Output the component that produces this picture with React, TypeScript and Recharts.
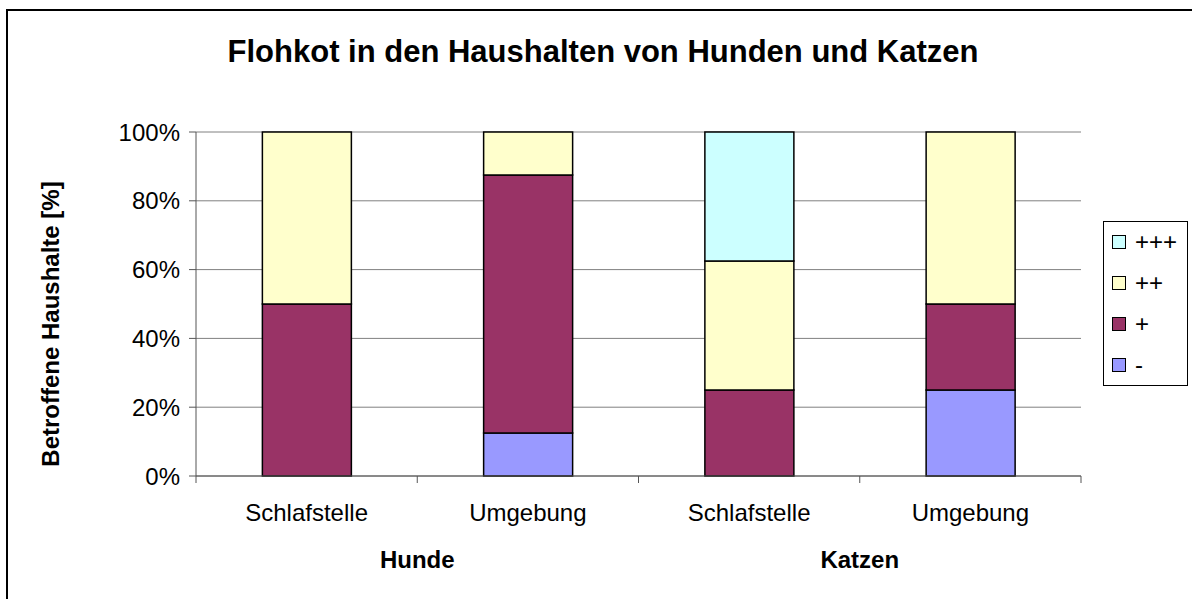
import React from 'react';
import { BarChart, Bar, XAxis, YAxis, CartesianGrid, Legend } from 'recharts';

const categories = ['Schlafstelle', 'Umgebung', 'Schlafstelle', 'Umgebung'];
const groups = ['Hunde', 'Hunde', 'Katzen', 'Katzen'];
const minus = [0, 12.5, 0, 25];
const plus = [50, 75, 25, 25];
const plus2 = [50, 12.5, 37.5, 50];
const plus3 = [0, 0, 37.5, 0];
const yTicks = [0, 20, 40, 60, 80, 100];
const seriesNames = ['-', '+', '++', '+++'];
const seriesColors = ['#9999FF', '#993366', '#FFFFCC', '#CCFFFF'];
const title = 'Flohkot in den Haushalten von Hunden und Katzen';
const yLabel = 'Betroffene Haushalte [%]';

const data = categories.map((c, i) => ({
  key: `${groups[i]}-${c}`,
  cat: c,
  group: groups[i],
  s0: minus[i],
  s1: plus[i],
  s2: plus2[i],
  s3: plus3[i],
}));

const FONT = '"Liberation Sans", Arial, sans-serif';

const XTick = (props: any) => {
  const { x, y, index, width } = props;
  const n = categories.length;
  const band = (typeof width === 'number' && width > 0 ? width : 885) / n;
  const left = x - band / 2;
  const right = x + band / 2;
  return (
    <g>
      <line x1={left} y1={y} x2={left} y2={y + 7} stroke="#555" strokeWidth={1} />
      {index === n - 1 && (
        <line x1={right} y1={y} x2={right} y2={y + 7} stroke="#555" strokeWidth={1} />
      )}
      <text x={x} y={y + 45} textAnchor="middle" fontSize={24} fontFamily={FONT} fill="#000">
        {categories[index]}
      </text>
      {index % 2 === 0 && (
        <text
          x={right}
          y={y + 92}
          textAnchor="middle"
          fontSize={24}
          fontWeight="bold"
          fontFamily={FONT}
          fill="#000"
        >
          {groups[index]}
        </text>
      )}
    </g>
  );
};

const LegendContent = () => {
  const items = seriesNames.map((name, i) => ({ name, color: seriesColors[i] })).reverse();
  return (
    <div
      style={{
        width: 85,
        height: 165,
        boxSizing: 'border-box',
        border: '1px solid #000',
        background: '#fff',
        display: 'flex',
        flexDirection: 'column',
        justifyContent: 'space-around',
        fontFamily: FONT,
        fontSize: 24,
        color: '#000',
      }}
    >
      {items.map((p) => (
        <div key={p.name} style={{ display: 'flex', alignItems: 'center', paddingLeft: 8 }}>
          <span
            style={{
              display: 'inline-block',
              width: 14,
              height: 14,
              boxSizing: 'border-box',
              border: '1.5px solid #000',
              background: p.color,
              marginRight: 9,
            }}
          />
          <span style={{ lineHeight: '24px' }}>{p.name}</span>
        </div>
      ))}
    </div>
  );
};

export default function App() {
  return (
    <div style={{ position: 'absolute', left: 0, top: 0, width: 1192, height: 599, background: '#fff' }}>
      <BarChart
        width={1192}
        height={599}
        data={data}
        margin={{ top: 132, right: 111, bottom: 0, left: 0 }}
        barCategoryGap="30%"
      >
        <rect x={7} y={10} width={1300} height={700} fill="none" stroke="#000" strokeWidth={2} />
        <text
          x={603}
          y={62}
          textAnchor="middle"
          fontSize={31}
          fontWeight="bold"
          fontFamily={FONT}
          fill="#000"
        >
          {title}
        </text>
        <text
          x={0}
          y={0}
          transform="translate(59,324) rotate(-90)"
          textAnchor="middle"
          fontSize={24}
          fontWeight="bold"
          fontFamily={FONT}
          fill="#000"
        >
          {yLabel}
        </text>
        <CartesianGrid vertical={false} stroke="#808080" strokeWidth={1} />
        <XAxis
          dataKey="key"
          height={123}
          interval={0}
          tickLine={false}
          tickSize={0}
          tickMargin={0}
          axisLine={{ stroke: '#555', strokeWidth: 1 }}
          tick={<XTick />}
        />
        <YAxis
          width={196}
          domain={[0, 100]}
          ticks={yTicks}
          interval={0}
          tickFormatter={(v: number) => `${v}%`}
          tickSize={7}
          tickMargin={9}
          axisLine={{ stroke: '#555', strokeWidth: 1 }}
          tickLine={{ stroke: '#555', strokeWidth: 1 }}
          tick={{ fontSize: 24, fill: '#000', fontFamily: FONT }}
        />
        <YAxis
          yAxisId="r"
          orientation="right"
          width={0}
          domain={[0, 100]}
          tick={false}
          tickLine={false}
          axisLine={{ stroke: '#808080', strokeWidth: 1 }}
        />
        <Legend
          layout="horizontal"
          verticalAlign="middle"
          align="center"
          content={<LegendContent />}
          wrapperStyle={{ left: 1103, top: 221, width: 85, height: 165 }}
        />
        {seriesNames.map((name, i) => (
          <Bar
            key={name}
            dataKey={`s${i}`}
            name={name}
            stackId="a"
            fill={seriesColors[i]}
            stroke="#000"
            strokeWidth={1.5}
            isAnimationActive={false}
          />
        ))}
      </BarChart>
    </div>
  );
}
